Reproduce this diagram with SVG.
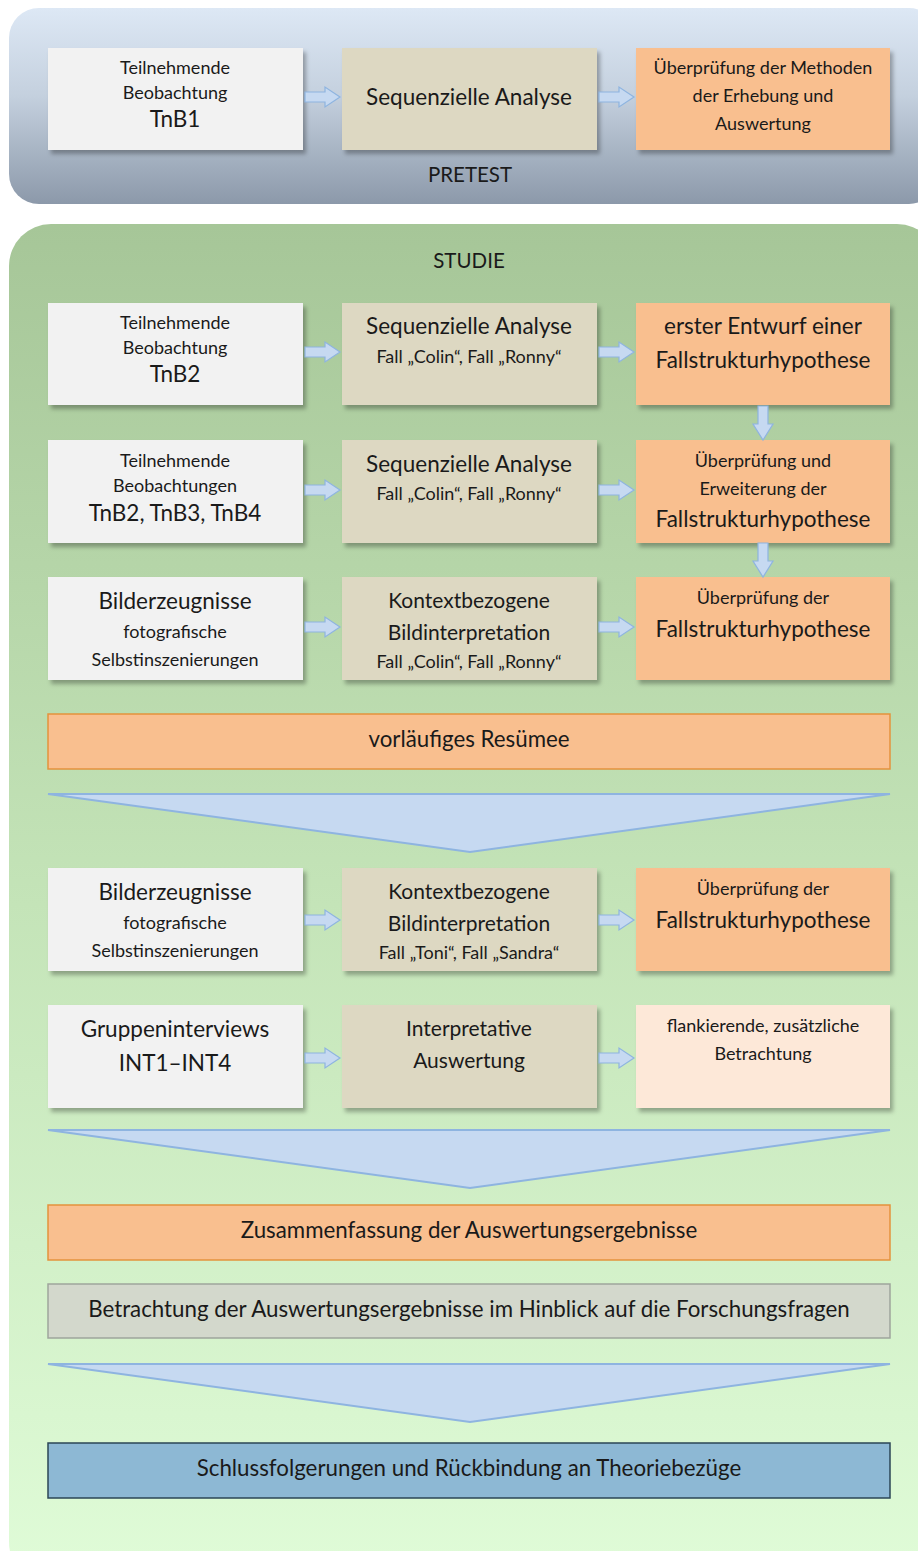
<svg xmlns="http://www.w3.org/2000/svg" width="918" height="1551" viewBox="0 0 918 1551">
<defs>
<linearGradient id="gPre" x1="0" y1="0" x2="0" y2="1">
<stop offset="0" stop-color="#dde8f5"/>
<stop offset="0.45" stop-color="#c4d0de"/>
<stop offset="1" stop-color="#8c99aa"/>
</linearGradient>
<linearGradient id="gStu" x1="0" y1="0" x2="0" y2="1">
<stop offset="0" stop-color="#a6c698"/>
<stop offset="0.5" stop-color="#c4e4b8"/>
<stop offset="1" stop-color="#e0fcd8"/>
</linearGradient>
<filter id="sh" x="-10%" y="-10%" width="125%" height="135%">
<feDropShadow dx="3" dy="4" stdDeviation="2" flood-color="#000" flood-opacity="0.3"/>
</filter>
<path id="arrH" d="M0,-5 H20 V-10 L35,0 L20,10 V5 H0 Z"/>
<path id="arrV" d="M-5,0 V18 H-10 L0,34 L10,18 H5 V0 Z"/>
</defs>
<style>
.t{font-family:"Lato","Open Sans","Liberation Sans",sans-serif;fill:#1a1a1a;text-anchor:middle}
.s{font-size:18px}
.m{font-size:21px}
.l{font-size:22.5px}
.b{font-size:22.3px}
.h{font-size:20.5px}
.w{fill:#f2f2f2;filter:url(#sh)}
.tan{fill:#ddd8c2;filter:url(#sh)}
.or{fill:#f9bf8f;filter:url(#sh)}
.lo{fill:#fde8d8;filter:url(#sh)}
.ar{fill:#c6d9f1;stroke:#8eb4e0;stroke-width:1.2}
.tri{fill:#c6d9f1;stroke:#8eb4e0;stroke-width:2}
</style>

<g id="pretest">
<rect x="9" y="8" width="930" height="196" rx="30" fill="url(#gPre)"/>
<text class="t h" x="470" y="182">PRETEST</text>
</g>
<g id="studie">
<rect x="9" y="224" width="930" height="1360" rx="42" fill="url(#gStu)"/>
<text class="t h" x="469" y="268">STUDIE</text>
</g>

<!-- Row 1 -->
<g id="p1"><rect class="w" x="48" y="48" width="255" height="102"/>
<text class="t s" x="175" y="74">Teilnehmende</text><text class="t s" x="175" y="99">Beobachtung</text><text class="t l" x="175" y="127">TnB1</text></g>
<g id="p2"><rect class="tan" x="342" y="48" width="255" height="102"/>
<text class="t l" x="469" y="105">Sequenzielle Analyse</text></g>
<g id="p3"><rect class="or" x="636" y="48" width="254" height="102"/>
<text class="t s" x="763" y="74">Überprüfung der Methoden</text><text class="t s" x="763" y="102">der Erhebung und</text><text class="t s" x="763" y="130">Auswertung</text></g>

<!-- Row 2 -->
<g id="r2a"><rect class="w" x="48" y="303" width="255" height="102"/>
<text class="t s" x="175" y="329">Teilnehmende</text><text class="t s" x="175" y="354">Beobachtung</text><text class="t l" x="175" y="382">TnB2</text></g>
<g id="r2b"><rect class="tan" x="342" y="303" width="255" height="102"/>
<text class="t l" x="469" y="334">Sequenzielle Analyse</text><text class="t s" x="469" y="363">Fall „Colin“, Fall „Ronny“</text></g>
<g id="r2c"><rect class="or" x="636" y="303" width="254" height="102"/>
<text class="t l" x="763" y="334">erster Entwurf einer</text><text class="t l" x="763" y="368">Fallstrukturhypothese</text></g>

<!-- Row 3 -->
<g id="r3a"><rect class="w" x="48" y="440" width="255" height="103"/>
<text class="t s" x="175" y="467">Teilnehmende</text><text class="t s" x="175" y="492">Beobachtungen</text><text class="t l" x="175" y="521">TnB2, TnB3, TnB4</text></g>
<g id="r3b"><rect class="tan" x="342" y="440" width="255" height="103"/>
<text class="t l" x="469" y="472">Sequenzielle Analyse</text><text class="t s" x="469" y="500">Fall „Colin“, Fall „Ronny“</text></g>
<g id="r3c"><rect class="or" x="636" y="440" width="254" height="103"/>
<text class="t s" x="763" y="467">Überprüfung und</text><text class="t s" x="763" y="495">Erweiterung der</text><text class="t l" x="763" y="527">Fallstrukturhypothese</text></g>

<!-- Row 4 -->
<g id="r4a"><rect class="w" x="48" y="577" width="255" height="103"/>
<text class="t l" x="175" y="609">Bilderzeugnisse</text><text class="t s" x="175" y="638">fotografische</text><text class="t s" x="175" y="666">Selbstinszenierungen</text></g>
<g id="r4b"><rect class="tan" x="342" y="577" width="255" height="103"/>
<text class="t m" x="469" y="608">Kontextbezogene</text><text class="t m" x="469" y="640">Bildinterpretation</text><text class="t s" x="469" y="668">Fall „Colin“, Fall „Ronny“</text></g>
<g id="r4c"><rect class="or" x="636" y="577" width="254" height="103"/>
<text class="t s" x="763" y="604">Überprüfung der</text><text class="t l" x="763" y="637">Fallstrukturhypothese</text></g>

<g id="resumee"><rect x="48" y="714" width="842" height="55" fill="#f9bf8f" stroke="#e4923d" stroke-width="1.5"/>
<text class="t b" x="469" y="747">vorläufiges Resümee</text></g>

<!-- Row 5 -->
<g id="r5a"><rect class="w" x="48" y="868" width="255" height="103"/>
<text class="t l" x="175" y="900">Bilderzeugnisse</text><text class="t s" x="175" y="929">fotografische</text><text class="t s" x="175" y="957">Selbstinszenierungen</text></g>
<g id="r5b"><rect class="tan" x="342" y="868" width="255" height="103"/>
<text class="t m" x="469" y="899">Kontextbezogene</text><text class="t m" x="469" y="931">Bildinterpretation</text><text class="t s" x="469" y="959">Fall „Toni“, Fall „Sandra“</text></g>
<g id="r5c"><rect class="or" x="636" y="868" width="254" height="103"/>
<text class="t s" x="763" y="895">Überprüfung der</text><text class="t l" x="763" y="928">Fallstrukturhypothese</text></g>

<!-- Row 6 -->
<g id="r6a"><rect class="w" x="48" y="1005" width="255" height="103"/>
<text class="t l" x="175" y="1037">Gruppeninterviews</text><text class="t l" x="175" y="1071">INT1–INT4</text></g>
<g id="r6b"><rect class="tan" x="342" y="1005" width="255" height="103"/>
<text class="t m" x="469" y="1036">Interpretative</text><text class="t m" x="469" y="1068">Auswertung</text></g>
<g id="r6c"><rect class="lo" x="636" y="1005" width="254" height="103"/>
<text class="t s" x="763" y="1032">flankierende, zusätzliche</text><text class="t s" x="763" y="1060">Betrachtung</text></g>

<g id="zusammenfassung"><rect x="48" y="1205" width="842" height="55" fill="#f9bf8f" stroke="#e4923d" stroke-width="1.5"/>
<text class="t b" x="469" y="1238">Zusammenfassung der Auswertungsergebnisse</text></g>
<g id="betrachtung"><rect x="48" y="1284" width="842" height="54" fill="#d3d8cc" stroke="#9ea59c" stroke-width="1.5"/>
<text class="t b" x="469" y="1317">Betrachtung der Auswertungsergebnisse im Hinblick auf die Forschungsfragen</text></g>
<g id="schluss"><rect x="48" y="1443" width="842" height="55" fill="#8db8d4" stroke="#2b4656" stroke-width="1.5"/>
<text class="t b" x="469" y="1476">Schlussfolgerungen und Rückbindung an Theoriebezüge</text></g>

<g id="connectors">
<use href="#arrH" class="ar" x="305" y="97"/>
<use href="#arrH" class="ar" x="599" y="97"/>
<use href="#arrH" class="ar" x="305" y="352"/>
<use href="#arrH" class="ar" x="599" y="352"/>
<use href="#arrH" class="ar" x="305" y="490"/>
<use href="#arrH" class="ar" x="599" y="490"/>
<use href="#arrH" class="ar" x="305" y="627"/>
<use href="#arrH" class="ar" x="599" y="627"/>
<use href="#arrH" class="ar" x="305" y="920"/>
<use href="#arrH" class="ar" x="599" y="920"/>
<use href="#arrH" class="ar" x="305" y="1058"/>
<use href="#arrH" class="ar" x="599" y="1058"/>
<use href="#arrV" class="ar" x="763" y="406"/>
<use href="#arrV" class="ar" x="763" y="543"/>
<polygon class="tri" points="48,794 890,794 470,852"/>
<polygon class="tri" points="48,1130 890,1130 470,1188"/>
<polygon class="tri" points="48,1364 890,1364 470,1422"/>
</g>
</svg>
